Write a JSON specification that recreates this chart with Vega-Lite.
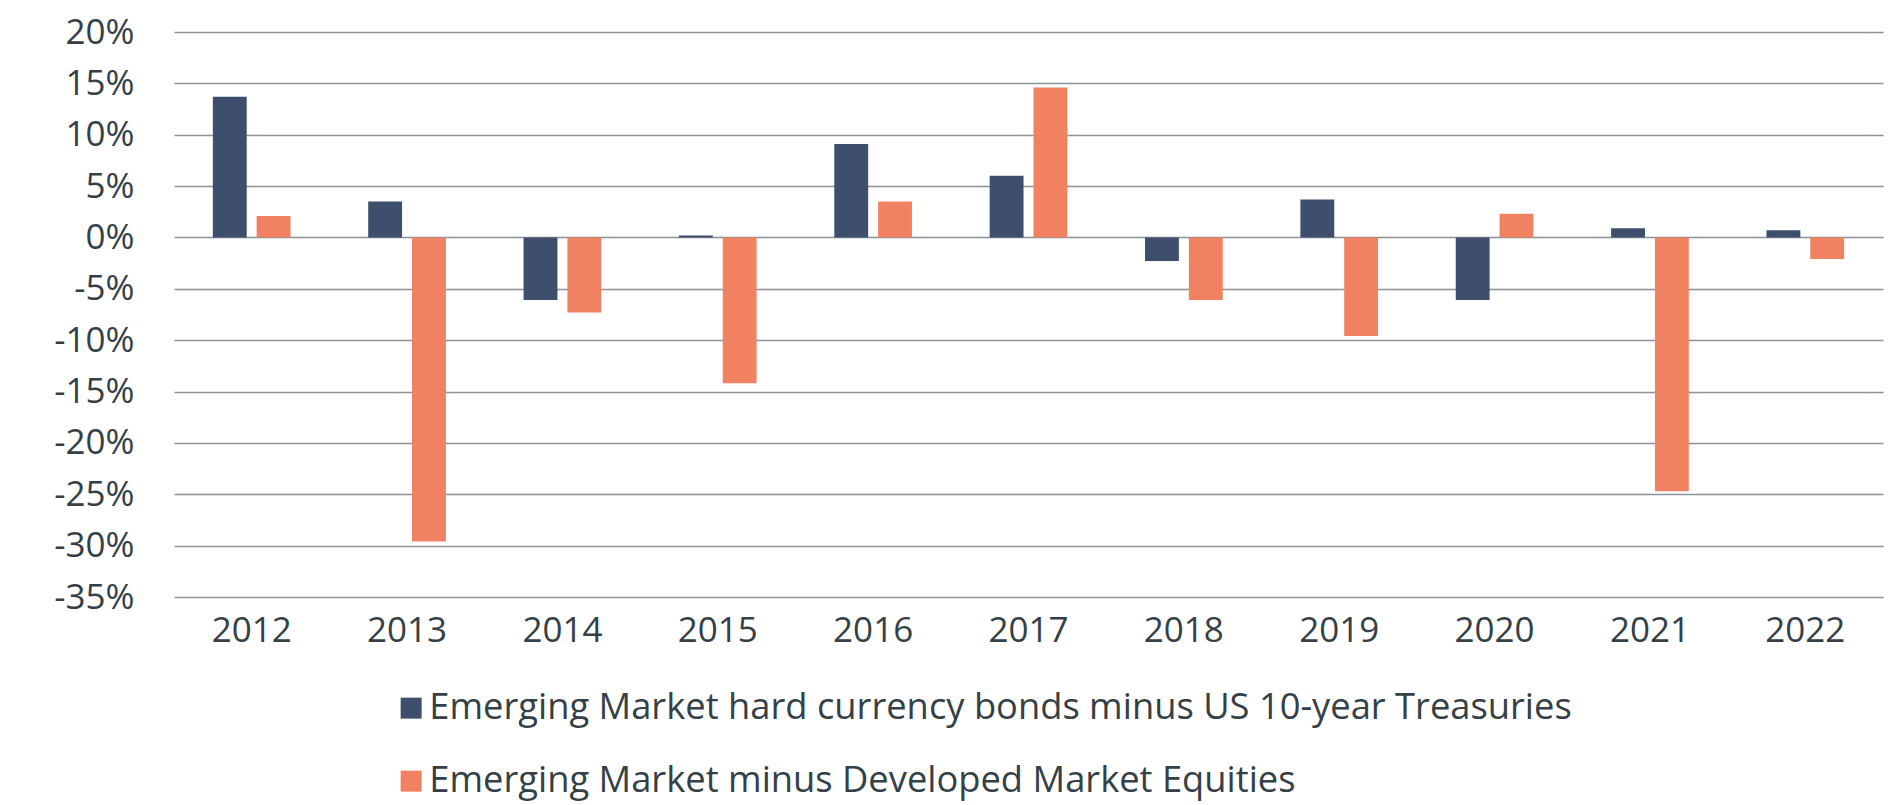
{
  "$schema": "https://vega.github.io/schema/vega-lite/v6.json",
  "width": 1709,
  "height": 565,
  "autosize": {"type": "none"},
  "padding": {"left": 174, "top": 32, "right": 13, "bottom": 208},
  "background": "white",
  "config": {
    "view": {"stroke": null},
    "font": "Open Sans",
    "axis": {"labelFont": "Open Sans", "labelColor": "#353f47", "labelFontSize": 35},
    "legend": {"labelFont": "Open Sans"}
  },
  "data": {
    "values": [
      {"year": "2012", "series": "Emerging Market hard currency bonds minus US 10-year Treasuries", "value": 0.137},
      {"year": "2012", "series": "Emerging Market minus Developed Market Equities", "value": 0.021},
      {"year": "2013", "series": "Emerging Market hard currency bonds minus US 10-year Treasuries", "value": 0.035},
      {"year": "2013", "series": "Emerging Market minus Developed Market Equities", "value": -0.296},
      {"year": "2014", "series": "Emerging Market hard currency bonds minus US 10-year Treasuries", "value": -0.061},
      {"year": "2014", "series": "Emerging Market minus Developed Market Equities", "value": -0.073},
      {"year": "2015", "series": "Emerging Market hard currency bonds minus US 10-year Treasuries", "value": 0.002},
      {"year": "2015", "series": "Emerging Market minus Developed Market Equities", "value": -0.142},
      {"year": "2016", "series": "Emerging Market hard currency bonds minus US 10-year Treasuries", "value": 0.091},
      {"year": "2016", "series": "Emerging Market minus Developed Market Equities", "value": 0.035},
      {"year": "2017", "series": "Emerging Market hard currency bonds minus US 10-year Treasuries", "value": 0.060},
      {"year": "2017", "series": "Emerging Market minus Developed Market Equities", "value": 0.146},
      {"year": "2018", "series": "Emerging Market hard currency bonds minus US 10-year Treasuries", "value": -0.023},
      {"year": "2018", "series": "Emerging Market minus Developed Market Equities", "value": -0.061},
      {"year": "2019", "series": "Emerging Market hard currency bonds minus US 10-year Treasuries", "value": 0.037},
      {"year": "2019", "series": "Emerging Market minus Developed Market Equities", "value": -0.096},
      {"year": "2020", "series": "Emerging Market hard currency bonds minus US 10-year Treasuries", "value": -0.061},
      {"year": "2020", "series": "Emerging Market minus Developed Market Equities", "value": 0.023},
      {"year": "2021", "series": "Emerging Market hard currency bonds minus US 10-year Treasuries", "value": 0.009},
      {"year": "2021", "series": "Emerging Market minus Developed Market Equities", "value": -0.247},
      {"year": "2022", "series": "Emerging Market hard currency bonds minus US 10-year Treasuries", "value": 0.007},
      {"year": "2022", "series": "Emerging Market minus Developed Market Equities", "value": -0.021}
    ]
  },
  "mark": {"type": "bar"},
  "encoding": {
    "x": {
      "field": "year",
      "type": "nominal",
      "title": null,
      "scale": {"paddingInner": 0.5, "paddingOuter": 0.25},
      "axis": {"labelAngle": 0, "ticks": false, "domain": false, "grid": false, "labelPadding": 16, "labelDx": -8}
    },
    "xOffset": {
      "field": "series",
      "type": "nominal",
      "scale": {"paddingInner": 0.227, "paddingOuter": 0},
      "sort": [
        "Emerging Market hard currency bonds minus US 10-year Treasuries",
        "Emerging Market minus Developed Market Equities"
      ]
    },
    "y": {
      "field": "value",
      "type": "quantitative",
      "title": null,
      "scale": {"domain": [-0.35, 0.2], "nice": false, "zero": false},
      "axis": {
        "values": [-0.35, -0.3, -0.25, -0.2, -0.15, -0.1, -0.05, 0, 0.05, 0.1, 0.15, 0.2],
        "labelExpr": "replace(format(datum.value, '.0%'), '\u2212', '-')",
        "ticks": false,
        "domain": false,
        "labelPadding": 40,
        "gridColor": "#8c9197",
        "gridWidth": 1.6,
        "gridOpacity": 1
      }
    },
    "color": {
      "field": "series",
      "type": "nominal",
      "title": null,
      "sort": [
        "Emerging Market hard currency bonds minus US 10-year Treasuries",
        "Emerging Market minus Developed Market Equities"
      ],
      "scale": {
        "domain": [
          "Emerging Market hard currency bonds minus US 10-year Treasuries",
          "Emerging Market minus Developed Market Equities"
        ],
        "range": ["#3d4f6d", "#f08262"]
      },
      "legend": {
        "orient": "none",
        "legendX": 219,
        "legendY": 658,
        "direction": "vertical",
        "padding": 0,
        "symbolType": "square",
        "symbolSize": 441,
        "symbolStrokeWidth": 0,
        "symbolOpacity": 1,
        "labelFontSize": 36.3,
        "labelColor": "#353f47",
        "labelOffset": 0,
        "labelLimit": 1500,
        "rowPadding": 36
      }
    }
  }
}
